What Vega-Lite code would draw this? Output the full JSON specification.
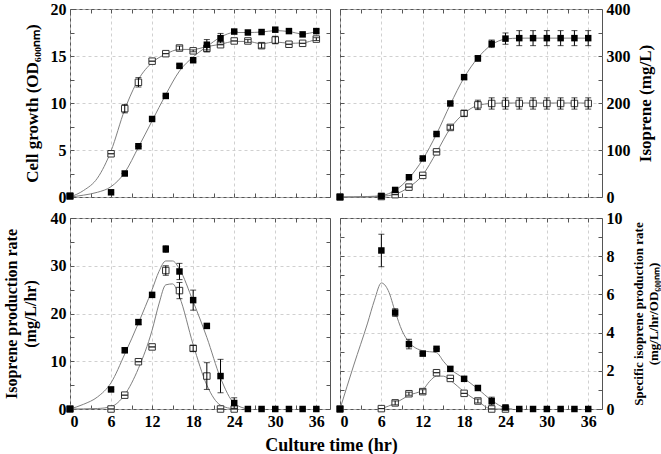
{
"$schema": "https://vega.github.io/schema/vega-lite/v6.json",
"background": "white",
"padding": {"left": 2, "top": 0, "right": 0, "bottom": 0},
"bounds": "flush",
"columns": 2,
"spacing": {"row": 21, "column": 10},
"title": {"text": "Culture time (hr)", "orient": "bottom", "anchor": "middle", "font": "Liberation Serif", "fontSize": 18, "fontWeight": "bold", "color": "black", "offset": 7},
"config": {
  "font": "Liberation Serif",
  "view": {"stroke": "#555", "strokeWidth": 1},
  "axis": {"labelFont": "Liberation Serif", "labelFontWeight": "bold", "labelColor": "black", "titleFont": "Liberation Serif", "titleFontWeight": "bold", "titleColor": "black", "tickColor": "#555", "tickSize": -4, "domain": false, "gridColor": "#c4c4c4", "gridDash": [3, 3], "gridWidth": 0.8}
},
"datasets": {
  "pts": [
    {"p":"a","s":"o","x":0,"y":0.1,"e":0},{"p":"a","s":"o","x":6,"y":4.6,"e":0},{"p":"a","s":"o","x":8,"y":9.4,"e":0.45},{"p":"a","s":"o","x":10,"y":12.2,"e":0.5},{"p":"a","s":"o","x":12,"y":14.45,"e":0},{"p":"a","s":"o","x":14,"y":15.25,"e":0},{"p":"a","s":"o","x":16,"y":15.85,"e":0.2},{"p":"a","s":"o","x":18,"y":15.55,"e":0.1},{"p":"a","s":"o","x":20,"y":15.8,"e":0.35},{"p":"a","s":"o","x":22,"y":16.2,"e":0},{"p":"a","s":"o","x":24,"y":16.6,"e":0},{"p":"a","s":"o","x":26,"y":16.6,"e":0.15},{"p":"a","s":"o","x":28,"y":16.1,"e":0.25},{"p":"a","s":"o","x":30,"y":16.7,"e":0.4},{"p":"a","s":"o","x":32,"y":16.25,"e":0},{"p":"a","s":"o","x":34,"y":16.35,"e":0},{"p":"a","s":"o","x":36,"y":16.8,"e":0.15},
    {"p":"a","s":"f","x":0,"y":0.1,"e":0},{"p":"a","s":"f","x":6,"y":0.5,"e":0},{"p":"a","s":"f","x":8,"y":2.5,"e":0},{"p":"a","s":"f","x":10,"y":5.4,"e":0},{"p":"a","s":"f","x":12,"y":8.3,"e":0},{"p":"a","s":"f","x":14,"y":10.75,"e":0},{"p":"a","s":"f","x":16,"y":13.95,"e":0.15},{"p":"a","s":"f","x":18,"y":14.55,"e":0.15},{"p":"a","s":"f","x":20,"y":16.2,"e":0.55},{"p":"a","s":"f","x":22,"y":16.9,"e":0.5},{"p":"a","s":"f","x":24,"y":17.6,"e":0},{"p":"a","s":"f","x":26,"y":17.5,"e":0},{"p":"a","s":"f","x":28,"y":17.55,"e":0},{"p":"a","s":"f","x":30,"y":17.8,"e":0},{"p":"a","s":"f","x":32,"y":17.65,"e":0},{"p":"a","s":"f","x":34,"y":17.3,"e":0},{"p":"a","s":"f","x":36,"y":17.65,"e":0.2},
    {"p":"b","s":"o","x":0,"y":0,"e":0},{"p":"b","s":"o","x":6,"y":1,"e":0},{"p":"b","s":"o","x":8,"y":5,"e":0},{"p":"b","s":"o","x":10,"y":21,"e":0},{"p":"b","s":"o","x":12,"y":46,"e":0},{"p":"b","s":"o","x":14,"y":96,"e":0},{"p":"b","s":"o","x":16,"y":148,"e":4},{"p":"b","s":"o","x":18,"y":178,"e":6},{"p":"b","s":"o","x":20,"y":196,"e":10},{"p":"b","s":"o","x":22,"y":199,"e":12},{"p":"b","s":"o","x":24,"y":199,"e":12},{"p":"b","s":"o","x":26,"y":199,"e":12},{"p":"b","s":"o","x":28,"y":199,"e":12},{"p":"b","s":"o","x":30,"y":199,"e":12},{"p":"b","s":"o","x":32,"y":199,"e":12},{"p":"b","s":"o","x":34,"y":199,"e":12},{"p":"b","s":"o","x":36,"y":199,"e":12},
    {"p":"b","s":"f","x":0,"y":0,"e":0},{"p":"b","s":"f","x":6,"y":2,"e":0},{"p":"b","s":"f","x":8,"y":15,"e":0},{"p":"b","s":"f","x":10,"y":42,"e":0},{"p":"b","s":"f","x":12,"y":82,"e":0},{"p":"b","s":"f","x":14,"y":134,"e":0},{"p":"b","s":"f","x":16,"y":199,"e":0},{"p":"b","s":"f","x":18,"y":255,"e":4},{"p":"b","s":"f","x":20,"y":295,"e":6},{"p":"b","s":"f","x":22,"y":326,"e":8},{"p":"b","s":"f","x":24,"y":337,"e":12},{"p":"b","s":"f","x":26,"y":338,"e":16},{"p":"b","s":"f","x":28,"y":338,"e":16},{"p":"b","s":"f","x":30,"y":338,"e":16},{"p":"b","s":"f","x":32,"y":338,"e":16},{"p":"b","s":"f","x":34,"y":338,"e":16},{"p":"b","s":"f","x":36,"y":338,"e":16},
    {"p":"c","s":"o","x":0,"y":0,"e":0},{"p":"c","s":"o","x":6,"y":0,"e":0},{"p":"c","s":"o","x":8,"y":2.9,"e":0},{"p":"c","s":"o","x":10,"y":9.9,"e":0},{"p":"c","s":"o","x":12,"y":13.0,"e":0},{"p":"c","s":"o","x":14,"y":29.0,"e":1.0},{"p":"c","s":"o","x":16,"y":24.8,"e":1.7},{"p":"c","s":"o","x":18,"y":12.7,"e":0.6},{"p":"c","s":"o","x":20,"y":6.9,"e":2.8},{"p":"c","s":"o","x":22,"y":0,"e":0},{"p":"c","s":"o","x":24,"y":0,"e":0},
    {"p":"c","s":"f","x":0,"y":0,"e":0},{"p":"c","s":"f","x":6,"y":4.1,"e":0},{"p":"c","s":"f","x":8,"y":12.3,"e":0.5},{"p":"c","s":"f","x":10,"y":18.2,"e":0.5},{"p":"c","s":"f","x":12,"y":23.9,"e":0},{"p":"c","s":"f","x":14,"y":33.5,"e":0.7},{"p":"c","s":"f","x":16,"y":28.8,"e":1.7},{"p":"c","s":"f","x":18,"y":22.8,"e":2.1},{"p":"c","s":"f","x":20,"y":17.4,"e":0},{"p":"c","s":"f","x":22,"y":6.9,"e":3.5},{"p":"c","s":"f","x":24,"y":1.25,"e":1.1},{"p":"c","s":"f","x":26,"y":0,"e":0},{"p":"c","s":"f","x":28,"y":0,"e":0},{"p":"c","s":"f","x":30,"y":0,"e":0},{"p":"c","s":"f","x":32,"y":0,"e":0},{"p":"c","s":"f","x":34,"y":0,"e":0},{"p":"c","s":"f","x":36,"y":0,"e":0},
    {"p":"d","s":"o","x":0,"y":0,"e":0},{"p":"d","s":"o","x":6,"y":0.02,"e":0},{"p":"d","s":"o","x":8,"y":0.32,"e":0.1},{"p":"d","s":"o","x":10,"y":0.8,"e":0.08},{"p":"d","s":"o","x":12,"y":0.91,"e":0.1},{"p":"d","s":"o","x":14,"y":1.9,"e":0},{"p":"d","s":"o","x":16,"y":1.6,"e":0},{"p":"d","s":"o","x":18,"y":0.82,"e":0},{"p":"d","s":"o","x":20,"y":0.42,"e":0.1},{"p":"d","s":"o","x":22,"y":0,"e":0},{"p":"d","s":"o","x":24,"y":0,"e":0},
    {"p":"d","s":"f","x":0,"y":0,"e":0},{"p":"d","s":"f","x":6,"y":8.3,"e":0.85},{"p":"d","s":"f","x":8,"y":5.05,"e":0.2},{"p":"d","s":"f","x":10,"y":3.4,"e":0.25},{"p":"d","s":"f","x":12,"y":2.9,"e":0},{"p":"d","s":"f","x":14,"y":3.15,"e":0},{"p":"d","s":"f","x":16,"y":2.1,"e":0.1},{"p":"d","s":"f","x":18,"y":1.58,"e":0.1},{"p":"d","s":"f","x":20,"y":1.1,"e":0},{"p":"d","s":"f","x":22,"y":0.42,"e":0.2},{"p":"d","s":"f","x":24,"y":0.08,"e":0.05},{"p":"d","s":"f","x":26,"y":0,"e":0},{"p":"d","s":"f","x":28,"y":0,"e":0},{"p":"d","s":"f","x":30,"y":0,"e":0},{"p":"d","s":"f","x":32,"y":0,"e":0},{"p":"d","s":"f","x":34,"y":0,"e":0},{"p":"d","s":"f","x":36,"y":0,"e":0}
  ],
  "cur": [
    {"p":"a","s":"f","x":0,"y":0},{"p":"a","s":"f","x":2,"y":0.2},{"p":"a","s":"f","x":4,"y":0.5},{"p":"a","s":"f","x":6,"y":1.1},{"p":"a","s":"f","x":8,"y":2.6},{"p":"a","s":"f","x":10,"y":5.3},{"p":"a","s":"f","x":12,"y":8.1},{"p":"a","s":"f","x":14,"y":10.9},{"p":"a","s":"f","x":16,"y":13.4},{"p":"a","s":"f","x":18,"y":14.9},{"p":"a","s":"f","x":20,"y":16.0},{"p":"a","s":"f","x":22,"y":17.0},{"p":"a","s":"f","x":24,"y":17.5},{"p":"a","s":"f","x":26,"y":17.5},{"p":"a","s":"f","x":28,"y":17.55},{"p":"a","s":"f","x":30,"y":17.7},{"p":"a","s":"f","x":32,"y":17.6},{"p":"a","s":"f","x":34,"y":17.35},{"p":"a","s":"f","x":36,"y":17.6},
    {"p":"a","s":"o","x":0,"y":0},{"p":"a","s":"o","x":2,"y":0.7},{"p":"a","s":"o","x":4,"y":2.0},{"p":"a","s":"o","x":6,"y":4.9},{"p":"a","s":"o","x":8,"y":9.3},{"p":"a","s":"o","x":10,"y":12.5},{"p":"a","s":"o","x":12,"y":14.3},{"p":"a","s":"o","x":14,"y":15.2},{"p":"a","s":"o","x":16,"y":15.7},{"p":"a","s":"o","x":18,"y":15.7},{"p":"a","s":"o","x":20,"y":16.0},{"p":"a","s":"o","x":22,"y":16.25},{"p":"a","s":"o","x":24,"y":16.55},{"p":"a","s":"o","x":26,"y":16.55},{"p":"a","s":"o","x":28,"y":16.3},{"p":"a","s":"o","x":30,"y":16.5},{"p":"a","s":"o","x":32,"y":16.35},{"p":"a","s":"o","x":34,"y":16.4},{"p":"a","s":"o","x":36,"y":16.8},
    {"p":"b","s":"f","x":0,"y":0},{"p":"b","s":"f","x":2,"y":0.3},{"p":"b","s":"f","x":4,"y":1},{"p":"b","s":"f","x":6,"y":3},{"p":"b","s":"f","x":8,"y":14},{"p":"b","s":"f","x":10,"y":40},{"p":"b","s":"f","x":12,"y":80},{"p":"b","s":"f","x":14,"y":134},{"p":"b","s":"f","x":16,"y":197},{"p":"b","s":"f","x":18,"y":254},{"p":"b","s":"f","x":20,"y":296},{"p":"b","s":"f","x":22,"y":324},{"p":"b","s":"f","x":24,"y":336},{"p":"b","s":"f","x":26,"y":338},{"p":"b","s":"f","x":28,"y":338},{"p":"b","s":"f","x":30,"y":338},{"p":"b","s":"f","x":32,"y":338},{"p":"b","s":"f","x":34,"y":338},{"p":"b","s":"f","x":36,"y":338},
    {"p":"b","s":"o","x":0,"y":0},{"p":"b","s":"o","x":2,"y":0},{"p":"b","s":"o","x":4,"y":0.5},{"p":"b","s":"o","x":6,"y":1.5},{"p":"b","s":"o","x":8,"y":6},{"p":"b","s":"o","x":10,"y":21},{"p":"b","s":"o","x":12,"y":47},{"p":"b","s":"o","x":14,"y":95},{"p":"b","s":"o","x":16,"y":146},{"p":"b","s":"o","x":18,"y":178},{"p":"b","s":"o","x":20,"y":195},{"p":"b","s":"o","x":22,"y":199},{"p":"b","s":"o","x":24,"y":200},{"p":"b","s":"o","x":26,"y":200},{"p":"b","s":"o","x":28,"y":200},{"p":"b","s":"o","x":30,"y":200},{"p":"b","s":"o","x":32,"y":200},{"p":"b","s":"o","x":34,"y":200},{"p":"b","s":"o","x":36,"y":200},
    {"p":"c","s":"f","x":0,"y":0},{"p":"c","s":"f","x":2,"y":1.0},{"p":"c","s":"f","x":4,"y":2.5},{"p":"c","s":"f","x":6,"y":5.5},{"p":"c","s":"f","x":8,"y":11.5},{"p":"c","s":"f","x":10,"y":18.0},{"p":"c","s":"f","x":12,"y":25.0},{"p":"c","s":"f","x":13,"y":28.8},{"p":"c","s":"f","x":14,"y":31.0},{"p":"c","s":"f","x":15,"y":31.0},{"p":"c","s":"f","x":16,"y":29.3},{"p":"c","s":"f","x":18,"y":22.5},{"p":"c","s":"f","x":20,"y":15.0},{"p":"c","s":"f","x":22,"y":6.5},{"p":"c","s":"f","x":24,"y":1.2},{"p":"c","s":"f","x":26,"y":0},
    {"p":"c","s":"o","x":0,"y":0},{"p":"c","s":"o","x":4,"y":0.1},{"p":"c","s":"o","x":6,"y":0.5},{"p":"c","s":"o","x":8,"y":3.0},{"p":"c","s":"o","x":10,"y":8.5},{"p":"c","s":"o","x":12,"y":16.5},{"p":"c","s":"o","x":13,"y":22},{"p":"c","s":"o","x":14,"y":26},{"p":"c","s":"o","x":15,"y":26.2},{"p":"c","s":"o","x":16,"y":23.5},{"p":"c","s":"o","x":18,"y":13.5},{"p":"c","s":"o","x":20,"y":5},{"p":"c","s":"o","x":22,"y":0.8},{"p":"c","s":"o","x":24,"y":0},
    {"p":"d","s":"f","x":0,"y":0},{"p":"d","s":"f","x":2,"y":2.3},{"p":"d","s":"f","x":4,"y":4.5},{"p":"d","s":"f","x":5,"y":5.7},{"p":"d","s":"f","x":6,"y":6.6},{"p":"d","s":"f","x":7,"y":6.2},{"p":"d","s":"f","x":8,"y":5.1},{"p":"d","s":"f","x":9,"y":4.1},{"p":"d","s":"f","x":10,"y":3.5},{"p":"d","s":"f","x":12,"y":3.05},{"p":"d","s":"f","x":14,"y":2.95},{"p":"d","s":"f","x":15,"y":2.5},{"p":"d","s":"f","x":16,"y":2.1},{"p":"d","s":"f","x":18,"y":1.6},{"p":"d","s":"f","x":20,"y":1.05},{"p":"d","s":"f","x":22,"y":0.45},{"p":"d","s":"f","x":24,"y":0.05},{"p":"d","s":"f","x":25,"y":0},
    {"p":"d","s":"o","x":6,"y":0.02},{"p":"d","s":"o","x":8,"y":0.3},{"p":"d","s":"o","x":10,"y":0.72},{"p":"d","s":"o","x":12,"y":1.0},{"p":"d","s":"o","x":13,"y":1.45},{"p":"d","s":"o","x":14,"y":1.72},{"p":"d","s":"o","x":15,"y":1.72},{"p":"d","s":"o","x":16,"y":1.5},{"p":"d","s":"o","x":18,"y":0.9},{"p":"d","s":"o","x":20,"y":0.4},{"p":"d","s":"o","x":22,"y":0},{"p":"d","s":"o","x":24,"y":0}
  ]
},
"concat": [
  {
    "width": 260, "height": 188,
    "resolve": {"axis": {"x": "independent", "y": "independent"}},
    "layer": [
      {"data": {"name": "cur"}, "transform": [{"filter": "datum.p==='a'"}],
       "mark": {"type": "line", "interpolate": "monotone", "color": "#808080", "strokeWidth": 1},
       "encoding": {
         "x": {"field": "x", "type": "quantitative", "scale": {"domain": [0, 38], "nice": false}, "axis": {"orient": "bottom", "values": [0,3,6,9,12,15,18,21,24,27,30,33,36], "labels": false, "grid": true, "gridOpacity": {"condition": {"test": "datum.value % 6 === 0", "value": 1}, "value": 0}, "title": null}},
         "y": {"field": "y", "type": "quantitative", "scale": {"domain": [0, 20], "nice": false}, "axis": {"orient": "left", "values": [0,2.5,5,7.5,10,12.5,15,17.5,20], "labelExpr": "datum.value % 5 === 0 ? datum.label : ''", "labelFont": "Liberation Serif", "labelFontWeight": "bold", "labelFontSize": 16, "labelPadding": 8, "grid": true, "gridOpacity": {"condition": {"test": "datum.value % 5 === 0", "value": 1}, "value": 0}, "title": "Cell growth (OD₆₀₀ₙₘ)", "titleFont": "Liberation Serif", "titleFontWeight": "bold", "titleFontSize": 17, "titlePadding": 9}},
         "detail": {"field": "s"}}},
      {"data": {"name": "pts"}, "transform": [{"filter": "datum.p==='a' && datum.s==='o'"}],
       "mark": {"type": "square", "size": 42, "fill": "white", "stroke": "#333", "strokeWidth": 1, "opacity": 1},
       "encoding": {
         "x": {"field": "x", "type": "quantitative", "axis": {"orient": "top", "values": [0,3,6,9,12,15,18,21,24,27,30,33,36], "labels": false, "grid": false, "title": null}},
         "y": {"field": "y", "type": "quantitative", "axis": {"orient": "right", "values": [0,2.5,5,7.5,10,12.5,15,17.5,20], "labels": false, "grid": false, "title": null}}}},
      {"data": {"name": "pts"}, "transform": [{"filter": "datum.p==='a'"}],
       "mark": {"type": "errorbar", "ticks": {"size": 6}, "color": "black"},
       "encoding": {"x": {"field": "x", "type": "quantitative", "axis": null}, "y": {"field": "y", "type": "quantitative", "axis": null}, "yError": {"field": "e"}}},
      {"data": {"name": "pts"}, "transform": [{"filter": "datum.p==='a' && datum.s==='f'"}],
       "mark": {"type": "square", "size": 42, "color": "black", "opacity": 1},
       "encoding": {"x": {"field": "x", "type": "quantitative", "axis": null}, "y": {"field": "y", "type": "quantitative", "axis": null}}}
    ]
  },
  {
    "width": 262, "height": 188,
    "resolve": {"axis": {"x": "independent", "y": "independent"}},
    "layer": [
      {"data": {"name": "cur"}, "transform": [{"filter": "datum.p==='b'"}],
       "mark": {"type": "line", "interpolate": "monotone", "color": "#808080", "strokeWidth": 1},
       "encoding": {
         "x": {"field": "x", "type": "quantitative", "scale": {"domain": [0, 38], "nice": false}, "axis": {"orient": "bottom", "values": [0,3,6,9,12,15,18,21,24,27,30,33,36], "labels": false, "grid": true, "gridOpacity": {"condition": {"test": "datum.value % 6 === 0", "value": 1}, "value": 0}, "title": null}},
         "y": {"field": "y", "type": "quantitative", "scale": {"domain": [0, 400], "nice": false}, "axis": {"orient": "right", "values": [0,50,100,150,200,250,300,350,400], "labelExpr": "datum.value % 100 === 0 ? datum.label : ''", "labelFont": "Liberation Serif", "labelFontWeight": "bold", "labelFontSize": 16, "labelPadding": 8, "grid": true, "gridOpacity": {"condition": {"test": "datum.value % 100 === 0", "value": 1}, "value": 0}, "title": "Isoprene (mg/L)", "titleFont": "Liberation Serif", "titleFontWeight": "bold", "titleAngle": 270, "titleBaseline": "top", "titleFontSize": 17, "titlePadding": 7}},
         "detail": {"field": "s"}}},
      {"data": {"name": "pts"}, "transform": [{"filter": "datum.p==='b' && datum.s==='o'"}],
       "mark": {"type": "square", "size": 42, "fill": "white", "stroke": "#333", "strokeWidth": 1, "opacity": 1},
       "encoding": {
         "x": {"field": "x", "type": "quantitative", "axis": {"orient": "top", "values": [0,3,6,9,12,15,18,21,24,27,30,33,36], "labels": false, "grid": false, "title": null}},
         "y": {"field": "y", "type": "quantitative", "axis": {"orient": "left", "values": [0,50,100,150,200,250,300,350,400], "labels": false, "grid": false, "title": null}}}},
      {"data": {"name": "pts"}, "transform": [{"filter": "datum.p==='b'"}],
       "mark": {"type": "errorbar", "ticks": {"size": 6}, "color": "black"},
       "encoding": {"x": {"field": "x", "type": "quantitative", "axis": null}, "y": {"field": "y", "type": "quantitative", "axis": null}, "yError": {"field": "e"}}},
      {"data": {"name": "pts"}, "transform": [{"filter": "datum.p==='b' && datum.s==='f'"}],
       "mark": {"type": "square", "size": 42, "color": "black", "opacity": 1},
       "encoding": {"x": {"field": "x", "type": "quantitative", "axis": null}, "y": {"field": "y", "type": "quantitative", "axis": null}}}
    ]
  },
  {
    "width": 260, "height": 191,
    "resolve": {"axis": {"x": "independent", "y": "independent"}},
    "layer": [
      {"data": {"name": "cur"}, "transform": [{"filter": "datum.p==='c'"}],
       "mark": {"type": "line", "interpolate": "monotone", "color": "#808080", "strokeWidth": 1},
       "encoding": {
         "x": {"field": "x", "type": "quantitative", "scale": {"domain": [0, 38], "nice": false}, "axis": {"orient": "bottom", "values": [0,3,6,9,12,15,18,21,24,27,30,33,36], "labelExpr": "datum.value % 6 === 0 ? datum.label : ''", "labelFont": "Liberation Serif", "labelFontWeight": "bold", "labelFontSize": 16, "labelPadding": 8, "grid": true, "gridOpacity": {"condition": {"test": "datum.value % 6 === 0", "value": 1}, "value": 0}, "title": null}},
         "y": {"field": "y", "type": "quantitative", "scale": {"domain": [0, 40], "nice": false}, "axis": {"orient": "left", "values": [0,5,10,15,20,25,30,35,40], "labelExpr": "datum.value % 10 === 0 ? datum.label : ''", "labelFont": "Liberation Serif", "labelFontWeight": "bold", "labelFontSize": 16, "labelPadding": 8, "grid": true, "gridOpacity": {"condition": {"test": "datum.value % 10 === 0", "value": 1}, "value": 0}, "title": ["Isoprene production rate", "(mg/L/hr)"], "titleFont": "Liberation Serif", "titleFontWeight": "bold", "titleFontSize": 16, "titleLineHeight": 19, "titlePadding": 12}},
         "detail": {"field": "s"}}},
      {"data": {"name": "pts"}, "transform": [{"filter": "datum.p==='c' && datum.s==='o'"}],
       "mark": {"type": "square", "size": 42, "fill": "white", "stroke": "#333", "strokeWidth": 1, "opacity": 1},
       "encoding": {
         "x": {"field": "x", "type": "quantitative", "axis": {"orient": "top", "values": [0,3,6,9,12,15,18,21,24,27,30,33,36], "labels": false, "grid": false, "title": null}},
         "y": {"field": "y", "type": "quantitative", "axis": {"orient": "right", "values": [0,5,10,15,20,25,30,35,40], "labels": false, "grid": false, "title": null}}}},
      {"data": {"name": "pts"}, "transform": [{"filter": "datum.p==='c'"}],
       "mark": {"type": "errorbar", "ticks": {"size": 6}, "color": "black"},
       "encoding": {"x": {"field": "x", "type": "quantitative", "axis": null}, "y": {"field": "y", "type": "quantitative", "axis": null}, "yError": {"field": "e"}}},
      {"data": {"name": "pts"}, "transform": [{"filter": "datum.p==='c' && datum.s==='f'"}],
       "mark": {"type": "square", "size": 42, "color": "black", "opacity": 1},
       "encoding": {"x": {"field": "x", "type": "quantitative", "axis": null}, "y": {"field": "y", "type": "quantitative", "axis": null}}}
    ]
  },
  {
    "width": 262, "height": 191,
    "resolve": {"axis": {"x": "independent", "y": "independent"}},
    "layer": [
      {"data": {"name": "cur"}, "transform": [{"filter": "datum.p==='d'"}],
       "mark": {"type": "line", "interpolate": "monotone", "color": "#808080", "strokeWidth": 1},
       "encoding": {
         "x": {"field": "x", "type": "quantitative", "scale": {"domain": [0, 38], "nice": false}, "axis": {"orient": "bottom", "values": [0,3,6,9,12,15,18,21,24,27,30,33,36], "labelExpr": "datum.value % 6 === 0 ? datum.label : ''", "labelFont": "Liberation Serif", "labelFontWeight": "bold", "labelFontSize": 16, "labelPadding": 8, "grid": true, "gridOpacity": {"condition": {"test": "datum.value % 6 === 0", "value": 1}, "value": 0}, "title": null}},
         "y": {"field": "y", "type": "quantitative", "scale": {"domain": [0, 10], "nice": false}, "axis": {"orient": "right", "values": [0,1,2,3,4,5,6,7,8,9,10], "labelExpr": "datum.value % 2 === 0 ? datum.label : ''", "labelFont": "Liberation Serif", "labelFontWeight": "bold", "labelFontSize": 16, "labelPadding": 8, "grid": true, "gridOpacity": {"condition": {"test": "datum.value % 2 === 0", "value": 1}, "value": 0}, "title": ["Specific isoprene production rate", "(mg/L/hr/OD₆₀₀ₙₘ)"], "titleFont": "Liberation Serif", "titleFontWeight": "bold", "titleAngle": 270, "titleBaseline": "top", "titleFontSize": 13, "titleLineHeight": 15, "titlePadding": -5}},
         "detail": {"field": "s"}}},
      {"data": {"name": "pts"}, "transform": [{"filter": "datum.p==='d' && datum.s==='o'"}],
       "mark": {"type": "square", "size": 42, "fill": "white", "stroke": "#333", "strokeWidth": 1, "opacity": 1},
       "encoding": {
         "x": {"field": "x", "type": "quantitative", "axis": {"orient": "top", "values": [0,3,6,9,12,15,18,21,24,27,30,33,36], "labels": false, "grid": false, "title": null}},
         "y": {"field": "y", "type": "quantitative", "axis": {"orient": "left", "values": [0,1,2,3,4,5,6,7,8,9,10], "labels": false, "grid": false, "title": null}}}},
      {"data": {"name": "pts"}, "transform": [{"filter": "datum.p==='d'"}],
       "mark": {"type": "errorbar", "ticks": {"size": 6}, "color": "black"},
       "encoding": {"x": {"field": "x", "type": "quantitative", "axis": null}, "y": {"field": "y", "type": "quantitative", "axis": null}, "yError": {"field": "e"}}},
      {"data": {"name": "pts"}, "transform": [{"filter": "datum.p==='d' && datum.s==='f'"}],
       "mark": {"type": "square", "size": 42, "color": "black", "opacity": 1},
       "encoding": {"x": {"field": "x", "type": "quantitative", "axis": null}, "y": {"field": "y", "type": "quantitative", "axis": null}}}
    ]
  }
]
}
